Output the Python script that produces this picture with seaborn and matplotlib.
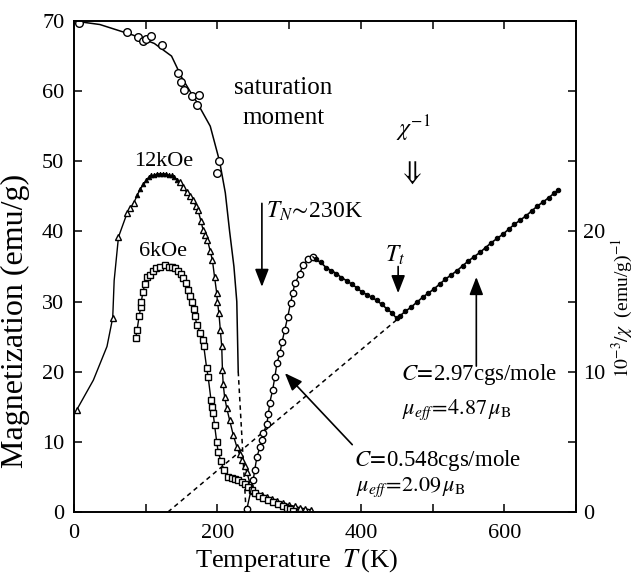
import matplotlib
matplotlib.use("Agg")
import matplotlib.pyplot as plt
import seaborn as sns

# ---------------- data ----------------
# saturation moment (open circles, left axis)
sat_T = [7, 74, 89, 96, 101, 108, 123, 145, 149, 153, 165, 171, 174, 199, 202]
sat_M = [69.7, 68.4, 67.7, 67.2, 67.4, 67.8, 66.6, 62.6, 61.3, 60.2, 59.3, 58.0, 59.4, 48.3, 50.0]
# guide curve through the saturation moment
satc_T = [0, 36, 82, 112, 136, 150, 164, 171, 190, 203, 211, 217, 223, 227, 229]
satc_M = [70, 69.5, 68, 66.8, 65, 62.0, 59.6, 58.5, 55, 50, 45.5, 40, 35, 30, 20]
satd_T = [229, 240]
satd_M = [20, 0]

# 12 kOe (triangles)
k12_T = [4, 54, 62, 74, 78, 83, 148, 152, 157, 162, 166, 170, 173, 177, 180, 183, 186,
         190, 193, 196, 199, 200, 202, 204, 206, 207, 208, 210, 213, 217, 222, 227, 231,
         234, 238, 241, 245, 250, 255, 262, 269, 276, 283, 292, 300, 308, 315, 322, 331]
k12_M = [14.6, 27.7, 39.2, 42.6, 43.3, 44.0, 47.0, 46.3, 45.6, 45.0, 44.5, 43.6, 43.0, 41.5,
         40.2, 39.5, 38.8, 37.2, 35.9, 33.5, 31.2, 30.0, 28.4, 26.0, 23.6, 20.2, 18.3, 16.4,
         14.8, 13.1, 11.0, 9.3, 8.2, 7.4, 6.5, 5.7, 4.2, 3.0, 2.7, 2.4, 2.2, 1.8, 1.5, 1.3,
         1.0, 0.8, 0.6, 0.45, 0.3]
k12f_T = [88, 92, 96, 100, 104, 108, 112, 116, 120, 124, 128, 132, 136, 140, 144]
k12f_M = [45.2, 46.0, 46.7, 47.3, 47.7, 48.0, 48.1, 48.2, 48.2, 48.2, 48.2, 48.1, 48.0, 47.7, 47.3]
k12l_T = [4, 27, 46, 54, 56, 62, 74, 83, 92, 104, 116, 128, 140, 148]
k12l_M = [14.6, 18.8, 23.6, 27.7, 33.0, 39.2, 42.6, 44.0, 46.0, 47.7, 48.2, 48.2, 47.7, 47.0]

# 6 kOe (squares)
k6_T = [86, 88, 91, 93, 94, 96, 99, 102, 106, 110, 115, 120, 127, 133, 137, 141, 145, 149,
        152, 156, 159, 162, 164, 167, 169, 171, 176, 180, 181, 185, 187, 191, 193, 194, 196,
        199, 201, 205, 209, 215, 220, 224, 229, 234, 238, 243, 248, 252, 258, 264, 271, 278,
        285, 292, 297, 301, 305]
k6_M = [24.8, 26.0, 28.0, 29.2, 30.0, 31.4, 32.5, 33.5, 33.8, 34.3, 34.8, 35.0, 35.2, 35.0,
        34.9, 34.8, 34.4, 33.9, 33.4, 32.6, 31.7, 30.8, 30.0, 29.0, 27.9, 26.7, 25.5, 24.5,
        23.6, 20.5, 19.3, 16.0, 15.0, 14.1, 12.4, 10.0, 8.6, 7.2, 6.0, 5.0, 4.9, 4.7, 4.5,
        4.3, 4.0, 3.6, 3.1, 2.7, 2.3, 2.0, 1.7, 1.4, 1.1, 0.9, 0.6, 0.4, 0.2]

# inverse susceptibility (right axis)
chio_T = [241, 250, 252, 255, 259, 262, 264, 269, 271, 273, 277, 280, 283, 287, 290, 294,
          298, 302, 305, 308, 315, 319, 326, 333]
chio_R = [0.2, 2.3, 3.0, 3.9, 4.6, 5.1, 5.6, 6.3, 7.0, 7.8, 8.7, 9.6, 10.6, 11.3, 12.1, 13.0,
          13.9, 14.9, 15.6, 16.3, 17.0, 17.6, 18.0, 18.2]
chif_T = [337, 344, 352, 359, 366, 373, 380, 387, 394, 401, 408, 415, 422, 429, 436, 443, 450,
          455, 462, 470, 478, 486, 494, 502, 510, 518, 526, 534, 542, 550, 558, 566, 574, 582,
          590, 598, 606, 614, 622, 630, 638, 646, 654, 662, 670, 675]
chif_R = [18.0, 17.8, 17.4, 17.2, 17.0, 16.7, 16.5, 16.25, 16.0, 15.7, 15.5, 15.3, 15.1, 14.8,
          14.5, 14.2, 13.8, 14.0, 14.3, 14.6, 14.95, 15.3, 15.6, 15.9, 16.25, 16.6, 16.9, 17.2,
          17.55, 17.9, 18.2, 18.5, 18.85, 19.2, 19.5, 19.8, 20.15, 20.5, 20.8, 21.1, 21.45,
          21.8, 22.1, 22.4, 22.75, 22.95]
chid_T = [131, 450]
chid_R = [0, 13.7]

x_ticks = [0, 100, 200, 300, 400, 500, 600, 700]
x_labels = ["0", "", "200", "", "400", "", "600", ""]
yl_ticks = [0, 10, 20, 30, 40, 50, 60, 70]
yr_ticks = [0, 5, 10, 15, 20, 25, 30, 35]
yr_labels = ["0", "", "10", "", "20", "", "", ""]

# ---------------- style ----------------
sns.set_theme(style="ticks")
plt.rcParams["font.family"] = ["Liberation Serif", "DejaVu Serif"]
plt.rcParams["mathtext.fontset"] = "stix"
plt.rcParams["axes.linewidth"] = 1.2

fig = plt.figure(figsize=(6.34, 5.76), dpi=100)
ax = fig.add_axes([74 / 634, 64 / 576, 502 / 634, 491 / 576])
ax2 = ax.twinx()
K = "black"

# saturation moment
sns.lineplot(x=satc_T, y=satc_M, ax=ax, color=K, lw=1.1, sort=False, estimator=None)
sns.lineplot(x=satd_T, y=satd_M, ax=ax, color=K, lw=1.1, ls=(0, (3, 2.5)), sort=False, estimator=None)
sns.lineplot(x=sat_T, y=sat_M, ax=ax, color=K, lw=0, marker="o", ms=5.5, mfc="white",
             mec=K, mew=1.0, sort=False, estimator=None)

# 12 kOe
sns.lineplot(x=k12l_T, y=k12l_M, ax=ax, color=K, lw=1.0, sort=False, estimator=None)
sns.lineplot(x=k12_T[6:], y=k12_M[6:], ax=ax, color=K, lw=1.0, sort=False, estimator=None)
sns.lineplot(x=k12f_T, y=k12f_M, ax=ax, color=K, lw=0, marker="^", ms=3.2, mfc=K,
             mec=K, sort=False, estimator=None)
sns.lineplot(x=k12_T, y=k12_M, ax=ax, color=K, lw=0, marker="^", ms=5, mfc="white",
             mec=K, mew=1.0, sort=False, estimator=None)

# 6 kOe
sns.lineplot(x=k6_T, y=k6_M, ax=ax, color=K, lw=1.0, marker="s", ms=4.6, mfc="white",
             mec=K, mew=1.0, sort=False, estimator=None)

# inverse susceptibility
sns.lineplot(x=chid_T, y=chid_R, ax=ax2, color=K, lw=1.1, ls=(0, (3, 2.5)), sort=False, estimator=None)
sns.lineplot(x=chio_T, y=chio_R, ax=ax2, color=K, lw=1.0, marker="o", ms=4.6, mfc="white",
             mec=K, mew=1.0, sort=False, estimator=None)
sns.lineplot(x=chif_T, y=chif_R, ax=ax2, color=K, lw=1.2, marker="o", ms=3.2, mfc=K,
             mec=K, sort=False, estimator=None)
sns.lineplot(x=[333, 337], y=[18.2, 18.0], ax=ax2, color=K, lw=1.0, sort=False, estimator=None)

# ---------------- axes ----------------
ax.set_xlim(0, 700)
ax.set_ylim(0, 70)
ax2.set_ylim(0, 35)
ax.set_xticks(x_ticks)
ax.set_xticklabels(x_labels)
ax.set_yticks(yl_ticks)
ax.set_yticklabels([str(v) for v in yl_ticks])
ax2.set_yticks(yr_ticks)
ax2.set_yticklabels(yr_labels)

ax.tick_params(axis="x", direction="in", top=True, length=6, width=1.1, labelsize=16,
               pad=9, colors=K)
ax.tick_params(axis="y", direction="in", left=True, right=False, length=6, width=1.1,
               labelsize=16, pad=7, colors=K)
ax2.tick_params(axis="y", direction="in", right=True, left=False, length=6, width=1.1,
                labelsize=16, pad=5, colors=K)
for a in (ax, ax2):
    for s in a.spines.values():
        s.set_color(K)
        s.set_linewidth(1.2)

ax.set_xlabel(r"Temperature  $T\,$(K)", fontsize=19, color=K)
ax.xaxis.set_label_coords(0.444, -0.072)
ax.set_ylabel("Magnetization (emu/g)", fontsize=23, color=K)
ax.yaxis.set_label_coords(-0.088, 0.39)
ax2.set_ylabel(r"$10^{-3}/\chi$  (emu/g)$^{-1}$", fontsize=14, color=K)
ax2.yaxis.set_label_coords(1.068, 0.415)

# ---------------- annotations ----------------
ax.text(292, 60.4, "saturation", fontsize=18, ha="center", va="center", color=K)
ax.text(292, 56.2, "moment", fontsize=18, ha="center", va="center", color=K)
ax.text(125, 49.9, "12kOe", fontsize=16, ha="center", va="center", color=K)
ax.text(124, 37.1, "6kOe", fontsize=16, ha="center", va="center", color=K)

arr = dict(arrowstyle="-|>,head_length=0.9,head_width=0.35", color=K, lw=1.2,
           shrinkA=0, shrinkB=0)
ax.annotate("", xy=(262, 32.1), xytext=(262, 44), arrowprops=arr)
ax.text(268, 42.8, r"$T_{N}\!\sim\!$230K", fontsize=17, ha="left", va="center", color=K)

ax.text(473, 54.6, r"$\chi^{-1}$", fontsize=17, ha="center", va="center", color=K)
ax.text(469, 48.3, r"$\Downarrow$", fontsize=20, ha="center", va="center", color=K)

ax.text(447, 36.6, r"$T_{t}$", fontsize=17, ha="center", va="center", color=K)
ax.annotate("", xy=(452, 31.2), xytext=(452, 35.0), arrowprops=arr)

ax.annotate("", xy=(561, 33.5), xytext=(561, 20.8), arrowprops=arr)
ax.text(456, 19.6, r"$C\!=\!$2.97cgs/mole", fontsize=16.5, ha="left", va="center", color=K)
ax.text(458, 14.6, r"$\mu_{\mathit{eff}}\!=\!4.87\,\mu_{\mathrm{B}}$", fontsize=16,
        ha="left", va="center", color=K)

ax.annotate("", xy=(294, 19.8), xytext=(388, 9.6), arrowprops=arr)
ax.text(391, 7.3, r"$C\!=\!$0.548cgs/mole", fontsize=16.5, ha="left", va="center", color=K)
ax.text(393, 3.5, r"$\mu_{\mathit{eff}}\!=\!2.09\,\mu_{\mathrm{B}}$", fontsize=16,
        ha="left", va="center", color=K)

fig.savefig("out.png", dpi=100, facecolor="white")
